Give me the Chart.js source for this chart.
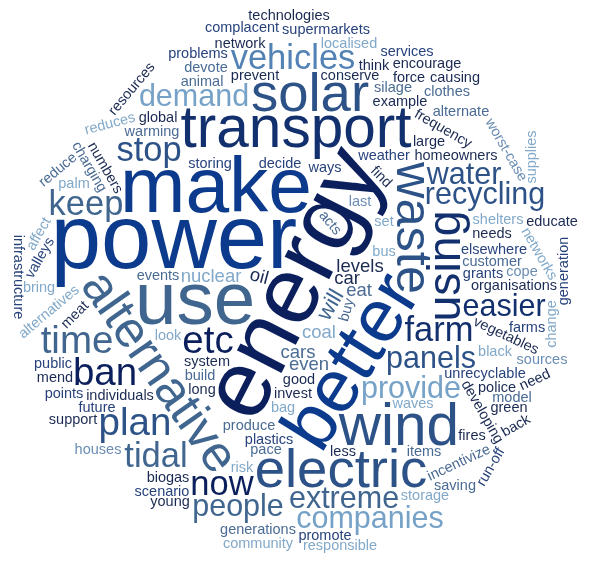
<!DOCTYPE html>
<html>
<head>
<meta charset="utf-8">
<title>Word cloud</title>
<script src="https://cdn.jsdelivr.net/npm/chart.js@4.4.1/dist/chart.umd.min.js"></script>
<style>
  html, body { margin: 0; padding: 0; background: #fff; }
  #wrap { width: 593px; height: 564px; }
</style>
</head>
<body>
<div id="wrap"><canvas id="cloud"></canvas></div>
<script>
// words and how often they came up
const words = [
  'energy', 'power', 'make', 'use', 'better', 'transport', 'wind', 'electric', 'solar', 'waste',
  'alternative', 'using', 'plan', 'etc', 'ban', 'time', 'vehicles', 'stop', 'keep', 'tidal',
  'now', 'farm', 'recycling', 'demand', 'water', 'people', 'provide', 'panels', 'extreme', 'easier',
  'companies', 'will', 'oil', 'coal', 'levels', 'car', 'nuclear', 'eat', 'cars', 'even',
  'good', 'system', 'decide', 'events', 'produce', 'storing', 'invest', 'weather', 'homeowners', 'plastics',
  'grants', 'customer', 'unrecyclable', 'elsewhere', 'individuals', 'organisations', 'vegetables', 'frequency', 'waves', 'ways',
  'bus', 'needs', 'shelters', 'warming', 'example', 'build', 'developing', 'numbers', 'meat', 'black',
  'global', 'prevent', 'silage', 'large', 'incentivize', 'last', 'alternatives', 'police', 'animal', 'conserve',
  'alternate', 'items', 'charging', 'networks', 'long', 'farms', 'biogas', 'look', 'think', 'future',
  'devote', 'worst-case', 'force', 'model', 'find', 'reduces', 'resources', 'clothes', 'palm', 'scenario',
  'network', 'green', 'storage', 'less', 'generations', 'localised', 'supermarkets', 'problems', 'encourage', 'sources',
  'public', 'educate', 'cope', 'young', 'houses', 'points', 'promote', 'support', 'pace', 'services',
  'bring', 'complacent', 'need', 'valleys', 'community', 'responsible', 'bag', 'risk', 'change', 'saving',
  'causing', 'technologies', 'reduce', 'back', 'affect', 'run-off', 'generation', 'infrastructure', 'supplies', 'acts',
  'buy', 'set', 'fires', 'mend'
];
const counts = [
  21, 20, 17, 16, 16, 12, 12, 11, 11, 10,
  10, 9, 7, 7, 7, 7, 6, 6, 6, 6,
  6, 6, 5, 5, 5, 5, 5, 5, 5, 5,
  5, 3, 2, 2, 2, 2, 2, 2, 2, 2,
  1, 1, 1, 1, 1, 1, 1, 1, 1, 1,
  1, 1, 1, 1, 1, 1, 1, 1, 1, 1,
  1, 1, 1, 1, 1, 1, 1, 1, 1, 1,
  1, 1, 1, 1, 1, 1, 1, 1, 1, 1,
  1, 1, 1, 1, 1, 1, 1, 1, 1, 1,
  1, 1, 1, 1, 1, 1, 1, 1, 1, 1,
  1, 1, 1, 1, 1, 1, 1, 1, 1, 1,
  1, 1, 1, 1, 1, 1, 1, 1, 1, 1,
  1, 1, 1, 1, 1, 1, 1, 1, 1, 1,
  1, 1, 1, 1, 1, 1, 1, 1, 1, 1,
  1, 1, 1, 1
];

// styling: colour per word, rotation (degrees) of the tilted ones,
// and the side of the cloud the bigger words lean to (degrees, 0 = right, 90 = down)
const shades = {
  '#0c3a8c': ['power', 'make', 'better'],
  '#0b1f5c': ['energy', 'ban', 'now', 'etc'],
  '#13306e': ['transport', 'easier', 'farm', 'using'],
  '#2c5288': ['electric', 'wind', 'waste', 'solar', 'recycling', 'stop', 'water', 'plan', 'panels'],
  '#40668f': ['use', 'alternative', 'keep', 'tidal', 'time', 'people', 'extreme', 'will'],
  '#5382b4': ['vehicles'],
  '#76a2c8': ['demand', 'provide', 'companies'],
  '#1b2a52': ['global', 'prevent', 'police', 'long', 'biogas', 'think', 'find', 'resources', 'green', 'network',
    'less', 'encourage', 'young', 'educate', 'support', 'need', 'fires', 'back', 'frequency', 'vegetables',
    'organisations', 'invest', 'system', 'good', 'needs', 'example', 'developing', 'numbers', 'meat', 'force',
    'large', 'conserve', 'levels', 'car', 'oil', 'technologies', 'individuals', 'homeowners', 'causing', 'mend'],
  '#28437c': ['weather', 'elsewhere', 'storing', 'decide', 'ways', 'unrecyclable', 'plastics', 'problems', 'public',
    'valleys', 'supermarkets', 'points', 'promote', 'services', 'complacent', 'infrastructure', 'scenario',
    'farms', 'future', 'run-off', 'generation'],
  '#4a6b93': ['events', 'produce', 'customer', 'warming', 'build', 'items', 'animal', 'charging', 'devote', 'eat',
    'cars', 'even', 'model', 'generations', 'acts', 'buy', 'silage', 'incentivize', 'alternate', 'reduce',
    'saving', 'clothes', 'pace'],
  '#6a8db4': ['sources', 'houses', 'cope', 'worst-case', 'last'],
  '#82a9c9': ['black', 'alternatives', 'look', 'networks', 'waves', 'bus', 'shelters', 'affect', 'supplies', 'coal',
    'nuclear', 'reduces', 'palm', 'storage', 'localised', 'responsible', 'bag', 'community', 'bring', 'risk',
    'set', 'change']
};
const turn = {
  energy: -63, better: -58, alternative: 55, waste: 90, using: -90, will: -60,
  alternatives: -40, incentivize: -25, frequency: 30, vegetables: 25, developing: 60, numbers: 60,
  meat: -45, infrastructure: 90, generation: -90, supplies: -90, 'run-off': -60, affect: -60,
  back: -30, reduce: -40, change: -90, charging: 60, networks: 60, 'worst-case': 60, oil: 15,
  find: 45, resources: -50, reduces: -15, valleys: -60, need: -25, acts: 50, buy: -75
};
const lean = {
  power: -160, make: -113, use: 159, better: 54, transport: -100, electric: 60, wind: 75,
  waste: -21, solar: -92, alternative: 144, using: -17, vehicles: -80, recycling: -50,
  demand: -120, stop: -130, water: -40, etc: -165, keep: -170, ban: 175, tidal: 150,
  time: 165, people: 155, provide: 145, plan: 125, now: 115, panels: 55, extreme: 85,
  easier: 25, companies: 40, farm: 10
};

const colorOf = {};
Object.keys(shades).forEach(c => shades[c].forEach(w => { colorOf[w] = c; }));

const FONT = '"Liberation Sans", Arial, Helvetica, sans-serif';

const cloudPlugin = {
  id: 'cloud',
  afterDraw(chart) {
    const ctx = chart.ctx;
    const xs = chart.scales.x, ys = chart.scales.y;
    const cx = xs.getPixelForValue(0), cy = ys.getPixelForValue(-0.01);
    const rx = Math.abs(xs.getPixelForValue(1) - xs.getPixelForValue(0)) * 0.985;
    const ry = Math.abs(ys.getPixelForValue(1) - ys.getPixelForValue(0)) * 0.995;
    const G = 2;
    const gw = Math.ceil(chart.width / G), gh = Math.ceil(chart.height / G);
    const grid = new Uint8Array(gw * gh);
    for (let gy = 0; gy < gh; gy++) {
      for (let gx = 0; gx < gw; gx++) {
        const dx = (gx * G + G / 2 - cx) / rx, dy = (gy * G + G / 2 - cy) / ry;
        if (dx * dx + dy * dy > 1) grid[gy * gw + gx] = 1;
      }
    }
    const off = document.createElement('canvas');
    const octx = off.getContext('2d', { willReadFrequently: true });
    const order = words.map((w, i) => i).sort((a, b) => counts[b] - counts[a] || a - b);
    const reach = rx * 0.34;
    const maxR = 2 * Math.max(rx, ry) + 10;

    order.forEach(i => {
      const word = words[i];
      const rot = (turn[word] || 0) * Math.PI / 180;
      const leans = lean[word] !== undefined;
      const theta0 = leans ? lean[word] * Math.PI / 180 : i * 2.39996;
      // spiral starts from the middle, or part way out towards the lean side
      const sx = cx + (leans ? reach * Math.cos(theta0) : 0);
      const sy = cy + (leans ? reach * Math.sin(theta0) * ry / rx : 0);
      let size = 10.5 + 4 * counts[i];
      while (size >= 9) {
        const font = size + 'px ' + FONT;
        octx.font = font;
        const w = octx.measureText(word).width;
        const h = size * 1.3;
        const c = Math.abs(Math.cos(rot)), s = Math.abs(Math.sin(rot));
        const bw = Math.ceil((w * c + h * s) / G) * G + 2 * G;
        const bh = Math.ceil((w * s + h * c) / G) * G + 2 * G;
        off.width = bw;
        off.height = bh;
        octx.font = font;
        octx.textAlign = 'center';
        octx.textBaseline = 'middle';
        octx.translate(bw / 2, bh / 2);
        octx.rotate(rot);
        octx.fillStyle = '#000';
        octx.fillText(word, 0, 0);
        const img = octx.getImageData(0, 0, bw, bh).data;
        const mw = bw / G, mh = bh / G;
        const cells = [];
        for (let my = 0; my < mh; my++) {
          for (let mx = 0; mx < mw; mx++) {
            let hit = false;
            for (let py = 0; py < G && !hit; py++) {
              for (let px = 0; px < G; px++) {
                if (img[((my * G + py) * bw + mx * G + px) * 4 + 3] > 30) { hit = true; break; }
              }
            }
            if (hit) cells.push(mx, my);
          }
        }

        const fits = (ox, oy) => {
          for (let k = 0; k < cells.length; k += 2) {
            const gx = ox + cells[k], gy = oy + cells[k + 1];
            if (gx < 0 || gy < 0 || gx >= gw || gy >= gh || grid[gy * gw + gx]) return false;
          }
          return true;
        };

        let spot = null;
        for (let r = 0; r <= maxR && !spot; r += G) {
          const n = r === 0 ? 1 : Math.ceil(2 * Math.PI * r / 3);
          for (let k = 0; k < n; k++) {
            const step = (k + 1) >> 1;
            const t = theta0 + Math.PI + (k % 2 ? 1 : -1) * 2 * Math.PI * step / n;
            const px = sx + r * Math.cos(t), py = sy + r * Math.sin(t) * ry / rx;
            const ox = Math.round((px - bw / 2) / G), oy = Math.round((py - bh / 2) / G);
            if (fits(ox, oy)) { spot = [ox, oy]; break; }
          }
        }

        if (spot) {
          // mark the word and a one-cell margin round it
          for (let k = 0; k < cells.length; k += 2) {
            const gx0 = spot[0] + cells[k], gy0 = spot[1] + cells[k + 1];
            for (let ey = -1; ey <= 1; ey++) {
              for (let ex = -1; ex <= 1; ex++) {
                const gx = gx0 + ex, gy = gy0 + ey;
                if (gx >= 0 && gy >= 0 && gx < gw && gy < gh) grid[gy * gw + gx] = 1;
              }
            }
          }
          ctx.save();
          ctx.translate(spot[0] * G + bw / 2, spot[1] * G + bh / 2);
          ctx.rotate(rot);
          ctx.font = font;
          ctx.textAlign = 'center';
          ctx.textBaseline = 'middle';
          ctx.fillStyle = colorOf[word] || '#28437c';
          ctx.fillText(word, 0, 0);
          ctx.restore();
          return;
        }
        size = Math.floor(size * 0.88);
      }
    });
  }
};

const config = {
  type: 'scatter',
  data: { datasets: [{ label: 'words', data: [], pointRadius: 0 }] },
  options: {
    responsive: true,
    maintainAspectRatio: false,
    animation: false,
    layout: { padding: 0 },
    scales: {
      x: { type: 'linear', min: -1, max: 1, display: false },
      y: { type: 'linear', min: -1, max: 1, display: false }
    },
    plugins: {
      legend: { display: false },
      tooltip: { enabled: false }
    }
  },
  plugins: [cloudPlugin]
};

const cloudChart = new Chart(document.getElementById('cloud'), config);
</script>
</body>
</html>
